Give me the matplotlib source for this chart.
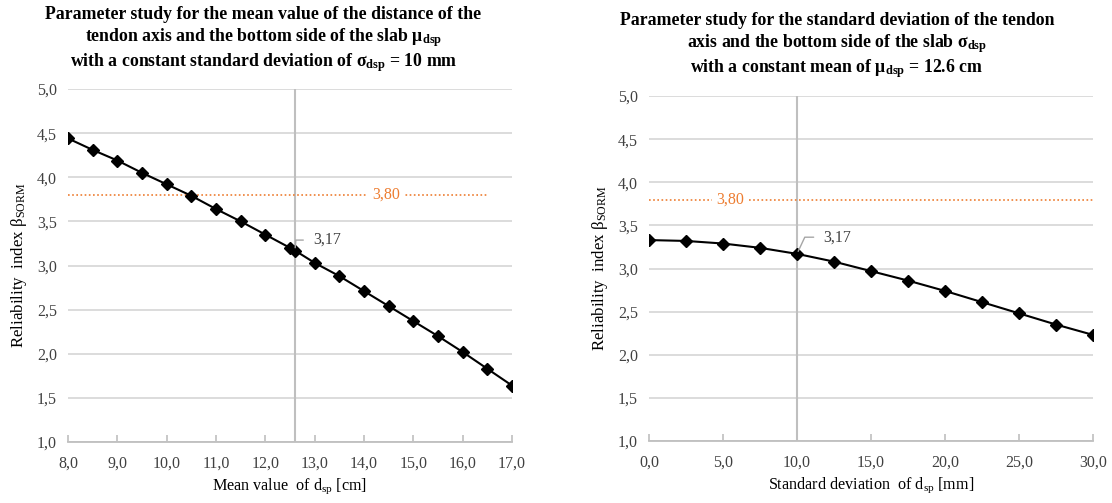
import matplotlib
matplotlib.use("Agg")
import matplotlib.pyplot as plt
from matplotlib.ticker import FuncFormatter, MultipleLocator

plt.rcParams['font.family'] = ['Liberation Serif', 'DejaVu Serif']
plt.rcParams['mathtext.fontset'] = 'custom'
plt.rcParams['mathtext.rm'] = 'Liberation Serif'
plt.rcParams['mathtext.it'] = 'Liberation Serif:italic'
plt.rcParams['mathtext.bf'] = 'Liberation Serif:bold'

# ---- data ----
mean_x = [8.0, 8.5, 9.0, 9.5, 10.0, 10.5, 11.0, 11.5, 12.0, 12.5, 12.6,
          13.0, 13.5, 14.0, 14.5, 15.0, 15.5, 16.0, 16.5, 17.0]
mean_beta = [4.44, 4.31, 4.19, 4.05, 3.92, 3.79, 3.64, 3.50, 3.35, 3.20, 3.17,
             3.03, 2.88, 2.71, 2.54, 2.37, 2.20, 2.02, 1.83, 1.64]
std_x = [0.0, 2.5, 5.0, 7.5, 10.0, 12.5, 15.0, 17.5, 20.0, 22.5, 25.0, 27.5, 30.0]
std_beta = [3.33, 3.32, 3.29, 3.24, 3.17, 3.08, 2.97, 2.86, 2.74, 2.61, 2.48, 2.35, 2.23]

target_beta = 3.80
target_label = "3,80"
ref_mean = 12.6
ref_std = 10.0
ref_beta = 3.17
ref_label = "3,17"

titles = [
    "Parameter study for the mean value of the distance of the\n"
    "tendon axis and the bottom side of the slab μ$_{\\mathbf{dsp}}$\n"
    "with a constant standard deviation of σ$_{\\mathbf{dsp}}$ = 10 mm",
    "Parameter study for the standard deviation of the tendon\n"
    "axis and the bottom side of the slab σ$_{\\mathbf{dsp}}$\n"
    "with a constant mean of μ$_{\\mathbf{dsp}}$ = 12.6 cm",
]
xlabels = ["Mean value  of d$_{\\mathrm{sp}}$ [cm]",
           "Standard deviation  of d$_{\\mathrm{sp}}$ [mm]"]
ylabel = "Reliability  index β$_{\\mathrm{SORM}}$"

ORANGE = '#ED7D31'
GRID = '#d9d9d9'
VLINE = '#bfbfbf'
TXT = '#404040'
FS = 11.5

fig = plt.figure(figsize=(11.12, 5.03), dpi=100)
ax1 = fig.add_axes([0.0612, 0.1213, 0.3992, 0.7017])
ax2 = fig.add_axes([0.5836, 0.1233, 0.3994, 0.6857])

comma = FuncFormatter(lambda v, p: f"{v:.1f}".replace('.', ','))


def style(ax, xlim, xstep):
    ax.set_xlim(*xlim)
    ax.set_ylim(1.0, 5.0)
    ax.xaxis.set_major_locator(MultipleLocator(xstep))
    ax.yaxis.set_major_locator(MultipleLocator(0.5))
    ax.xaxis.set_major_formatter(comma)
    ax.yaxis.set_major_formatter(comma)
    for s in ['top', 'right', 'left']:
        ax.spines[s].set_visible(False)
    ax.spines['bottom'].set_color(VLINE)
    ax.spines['bottom'].set_linewidth(1.3)
    ax.yaxis.grid(True, color=GRID, linewidth=1.3)
    ax.set_axisbelow(True)
    ax.tick_params(axis='y', length=0, pad=8, labelsize=FS, labelcolor=TXT)
    ax.tick_params(axis='x', direction='in', length=5, width=1.2, color=VLINE,
                   pad=9.5, labelsize=FS, labelcolor=TXT)
    ax.set_ylabel(ylabel, fontsize=12.2, color='black', labelpad=6)


# left
style(ax1, (8.0, 17.0), 1.0)
ax1.axvline(ref_mean, color=VLINE, linewidth=1.5, zorder=1)
ax1.plot([8.0, 16.5], [target_beta, target_beta], color=ORANGE, linestyle=(0, (1, 1.5)),
         linewidth=1.2, zorder=2)
ax1.text(14.45, target_beta, target_label, color=ORANGE, fontsize=FS, ha='center', va='center',
         bbox=dict(facecolor='white', edgecolor='none', pad=3), zorder=3)
ax1.plot(mean_x, mean_beta, color='black', linewidth=1.5, marker='D', markersize=5.8, zorder=4)
ax1.annotate(ref_label, xy=(ref_mean, ref_beta), xytext=(13, 7.5), textcoords='offset points',
             fontsize=FS, color=TXT, ha='left', va='center',
             arrowprops=dict(arrowstyle='-', color='#a6a6a6', lw=1.0, shrinkA=5, shrinkB=2,
                             connectionstyle='angle,angleA=180,angleB=85,rad=0'),
             zorder=5)
ax1.set_xlabel(xlabels[0], fontsize=11.6, labelpad=4)

# right
style(ax2, (0.0, 30.0), 5.0)
ax2.axvline(ref_std, color=VLINE, linewidth=1.5, zorder=1)
ax2.plot([0.0, 30.0], [target_beta, target_beta], color=ORANGE, linestyle=(0, (1, 1.5)),
         linewidth=1.2, zorder=2)
ax2.text(5.5, target_beta, target_label, color=ORANGE, fontsize=FS, ha='center', va='center',
         bbox=dict(facecolor='white', edgecolor='none', pad=3), zorder=3)
ax2.plot(std_x, std_beta, color='black', linewidth=1.5, marker='D', markersize=5.8, zorder=4)
ax2.annotate(ref_label, xy=(ref_std, ref_beta), xytext=(19, 12), textcoords='offset points',
             fontsize=FS, color=TXT, ha='left', va='center',
             arrowprops=dict(arrowstyle='-', color='#a6a6a6', lw=1.0, shrinkA=5, shrinkB=2,
                             connectionstyle='angle,angleA=180,angleB=65,rad=0'),
             zorder=5)
ax2.set_xlabel(xlabels[1], fontsize=11.6, labelpad=4)

fig.text(263.5 / 1112, 1 - 40 / 503, titles[0], ha='center', va='center', fontsize=12.8,
         fontweight='bold', linespacing=1.2)
fig.text(837 / 1112, 1 - 46 / 503, titles[1], ha='center', va='center', fontsize=12.8,
         fontweight='bold', linespacing=1.2)

fig.savefig("out.png", dpi=100)
